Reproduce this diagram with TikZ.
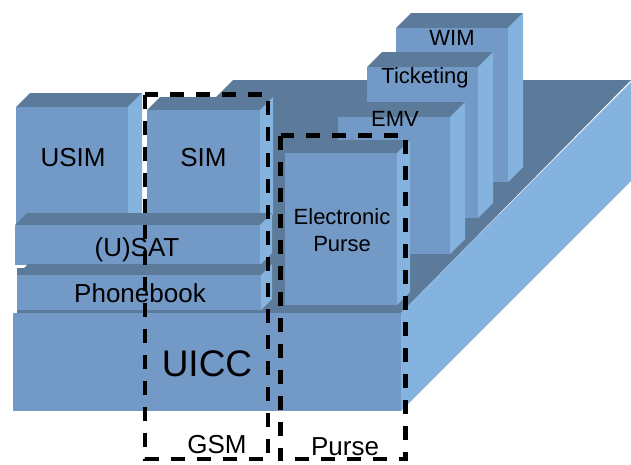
\documentclass[tikz,border=0pt]{standalone}
\usepackage{fontspec}
\setmainfont{Liberation Sans}

\definecolor{frontblue}{HTML}{7399C6}
\definecolor{topblue}{HTML}{5C7A99}
\definecolor{sideblue}{HTML}{85B3E0}

\begin{document}
\begin{tikzpicture}[x=1pt,y=-1pt,
  front/.style={fill=frontblue},
  topface/.style={fill=topblue},
  side/.style={fill=sideblue},
  big/.style={font=\fontsize{26}{28}\selectfont, inner sep=0pt, anchor=base},
  small/.style={font=\fontsize{22}{26.5}\selectfont, inner sep=0pt, anchor=base},
  dashbox/.style={line width=4.5pt, dash pattern=on 14pt off 12pt}]

\useasboundingbox (0,0) rectangle (631,464);

% card body
\fill[topface] (233,80) -- (631,80) -- (401,313) -- (17,313) -- (17,268) -- (148,268) -- (148,165) -- cycle;
\fill[side] (401,313) -- (631,82) -- (631,181) -- (401,411) -- cycle;
\fill[front] (13,313) rectangle (401,411);

% back row
\fill[topface] (396,28) -- (508,28) -- (523,13) -- (411,13) -- cycle;
\fill[side] (508,28) -- (523,13) -- (523,167) -- (508,182) -- cycle;
\fill[front] (396,28) rectangle (508,182);

\fill[topface] (367,67) -- (478,67) -- (493,52) -- (382,52) -- cycle;
\fill[side] (478,67) -- (493,52) -- (493,203) -- (478,218) -- cycle;
\fill[front] (367,67) rectangle (478,218);

\fill[topface] (338,117) -- (450,117) -- (465,102) -- (353,102) -- cycle;
\fill[side] (450,117) -- (465,102) -- (465,239) -- (450,254) -- cycle;
\fill[front] (338,117) rectangle (450,254);

\fill[topface] (285,153) -- (397,153) -- (410,140) -- (298,140) -- cycle;
\fill[side] (397,153) -- (410,140) -- (410,292) -- (397,305) -- cycle;
\fill[front] (285,153) rectangle (397,305);

% front stack
\fill[topface] (16,107) -- (128,107) -- (142,93) -- (30,93) -- cycle;
\fill[side] (128,107) -- (142,93) -- (142,213) -- (128,227) -- cycle;
\fill[front] (16,107) rectangle (128,227);

\fill[topface] (147,110) -- (260,110) -- (273,97) -- (160,97) -- cycle;
\fill[side] (260,110) -- (273,97) -- (273,214) -- (260,227) -- cycle;
\fill[front] (147,110) rectangle (260,227);

\fill[topface] (15,225) -- (260,225) -- (272,213) -- (27,213) -- cycle;
\fill[side] (260,225) -- (272,213) -- (272,253) -- (260,265) -- cycle;
\fill[front] (15,225) rectangle (260,265);

\fill[topface] (17,275) -- (261,275) -- (272,264) -- (28,264) -- cycle;
\fill[side] (261,275) -- (272,264) -- (272,299) -- (261,310) -- cycle;
\fill[front] (17,275) rectangle (261,310);

\node[small] (wim) at (452,45) {WIM};
\node[small] (ticketing) at (425,83.3) {Ticketing};
\node[small] (emv) at (395,126.5) {EMV};
\node[small, align=center, anchor=center] (epurse) at (342,230.3) {Electronic\\Purse};
\node[big] (usim) at (73,166.5) {USIM};
\node[big] (sim) at (203.5,166.5) {SIM};
\node[big] (usat) at (137,256) {(U)SAT};
\node[big] (phonebook) at (140,302) {Phonebook};
\node[big, font=\fontsize{37}{40}\selectfont] (uicc) at (207,376.5) {UICC};

% applications
\draw[dashbox] (145,94.5) rectangle (268,459);
\draw[dashbox] (280.5,135.5) rectangle (405.5,459);
\node[big] (gsm) at (217,453) {GSM};
\node[big] (purse) at (345,455) {Purse};

\end{tikzpicture}
\end{document}
